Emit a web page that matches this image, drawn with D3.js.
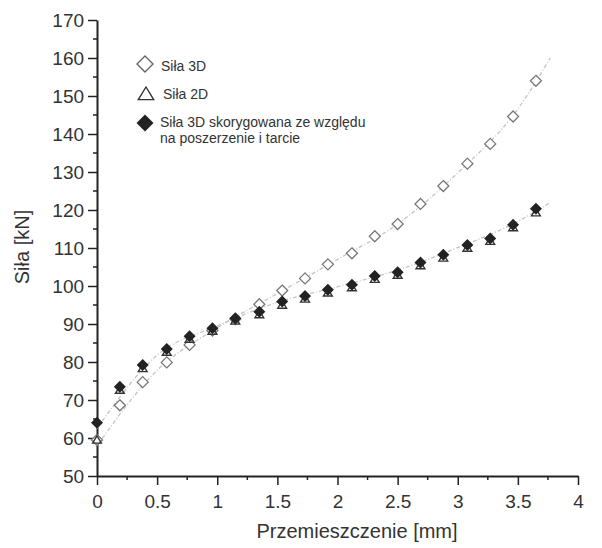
<!DOCTYPE html>
<html>
<head>
<meta charset="utf-8">
<script src="https://cdn.jsdelivr.net/npm/d3@7/dist/d3.min.js"></script>
<style>
  body { margin: 0; background: #fff; }
  svg { font-family: "Liberation Sans", Arial, sans-serif; }
</style>
</head>
<body>
<svg id="chart" width="602" height="548"></svg>
<script>
// displacement [mm]
const przem = [0, 0.19, 0.38, 0.58, 0.77, 0.96, 1.15, 1.35, 1.54, 1.73, 1.92, 2.12, 2.31, 2.5, 2.69, 2.88, 3.08, 3.27, 3.46, 3.65];
// forces [kN]
const sila3D = [59.5, 68.6, 74.7, 79.9, 84.5, 88.3, 91.3, 95.2, 98.8, 102.0, 105.7, 108.6, 113.1, 116.3, 121.6, 126.3, 132.2, 137.4, 144.6, 154.0];
const sila2D = [59.5, 72.6, 78.3, 82.6, 86.0, 88.1, 90.8, 92.5, 95.0, 96.6, 98.2, 99.6, 101.8, 102.9, 105.4, 107.4, 110.0, 111.8, 115.4, 119.3];
const silaKor = [64.0, 73.5, 79.2, 83.4, 86.8, 88.9, 91.5, 93.2, 95.9, 97.4, 99.0, 100.3, 102.6, 103.6, 106.2, 108.2, 110.8, 112.5, 116.1, 120.3];
// dashed trend lines
const fitX = [0, 0.5, 1, 1.5, 2, 2.5, 3, 3.5, 3.77];
const fit3D = [58, 77.8, 89, 98, 107, 116.3, 129.8, 146.6, 160];
const fitKor = [62.5, 81.8, 89.5, 95.7, 99.8, 104.2, 110.1, 117, 122];

const xTicks = [0, 0.5, 1, 1.5, 2, 2.5, 3, 3.5, 4];
const yTicks = [50, 60, 70, 80, 90, 100, 110, 120, 130, 140, 150, 160, 170];

const legendLabels = ["Siła 3D", "Siła 2D", ["Siła 3D skorygowana ze względu", "na poszerzenie i tarcie"]];

const svg = d3.select("#chart");

const x = d3.scaleLinear().domain([0, 4]).range([97, 578]);
const y = d3.scaleLinear().domain([50, 170]).range([476, 20]);

// minor ticks
const xMinor = d3.range(0.25, 4, 0.5);
const yMinor = d3.range(55, 170, 10);

const gx = svg.append("g").attr("transform", "translate(0,476)");
gx.call(d3.axisBottom(x).tickValues(xTicks).tickSize(9).tickFormat(d3.format("")).tickSizeOuter(0));
gx.append("g").selectAll("line").data(xMinor).enter().append("line")
    .attr("x1", d => x(d)).attr("x2", d => x(d)).attr("y1", 0).attr("y2", 4)
    .attr("stroke", "#222").attr("stroke-width", 1.5);

const gy = svg.append("g").attr("transform", "translate(97,0)");
gy.call(d3.axisLeft(y).tickValues(yTicks).tickSize(9).tickSizeOuter(0));
gy.append("g").selectAll("line").data(yMinor).enter().append("line")
    .attr("y1", d => y(d)).attr("y2", d => y(d)).attr("x1", 0).attr("x2", -4)
    .attr("stroke", "#222").attr("stroke-width", 1.5);

svg.selectAll(".domain").attr("stroke", "#222").attr("stroke-width", 2);
svg.selectAll(".tick line").attr("stroke", "#222").attr("stroke-width", 1.5);
svg.selectAll(".tick text").attr("font-size", 19).attr("fill", "#333")
   .attr("font-family", "Liberation Sans, Arial, sans-serif");
gx.selectAll(".tick text").attr("dy", "1.05em");
gy.selectAll(".tick text").attr("dx", "-0.05em");

svg.append("text").attr("x", 357).attr("y", 538).attr("text-anchor", "middle")
   .attr("font-size", 20).attr("fill", "#333").text("Przemieszczenie [mm]");
svg.append("text").attr("transform", "translate(29,247) rotate(-90)").attr("text-anchor", "middle")
   .attr("font-size", 20).attr("fill", "#333").text("Siła [kN]");

// trend lines
const line = d3.line().x((d, i) => x(fitX[i])).y(d => y(d)).curve(d3.curveMonotoneX);
[fit3D, fitKor].forEach(f => {
  svg.append("path").attr("d", line(f)).attr("fill", "none")
     .attr("stroke", "#c4c4c4").attr("stroke-width", 1.3).attr("stroke-dasharray", "4,2,1,2");
});

const diamond = r => `M0,${-r}L${r},0L0,${r}L${-r},0Z`;
const triangle = r => `M0,${-r}L${r * 1.1},${r * 0.8}L${-r * 1.1},${r * 0.8}Z`;

// Siła 3D - open diamonds
svg.append("g").selectAll("path").data(sila3D).enter().append("path")
   .attr("transform", (d, i) => `translate(${x(przem[i])},${y(d)})`)
   .attr("d", diamond(5.5)).attr("fill", "#fff").attr("stroke", "#777").attr("stroke-width", 1.3);
// Siła 2D - open triangles
svg.append("g").selectAll("path").data(sila2D).enter().append("path")
   .attr("transform", (d, i) => `translate(${x(przem[i])},${y(d)})`)
   .attr("d", triangle(4)).attr("fill", "none").attr("stroke", "#333").attr("stroke-width", 1.4);
// corrected - filled diamonds
svg.append("g").selectAll("path").data(silaKor).enter().append("path")
   .attr("transform", (d, i) => `translate(${x(przem[i])},${y(d)})`)
   .attr("d", diamond(6)).attr("fill", "#222");

// legend
const lg = svg.append("g").attr("font-size", 14).attr("fill", "#333");
lg.append("path").attr("transform", "translate(145,64)").attr("d", diamond(8))
  .attr("fill", "#fff").attr("stroke", "#666").attr("stroke-width", 1.4);
lg.append("path").attr("transform", "translate(146,94)").attr("d", triangle(7))
  .attr("fill", "none").attr("stroke", "#333").attr("stroke-width", 1.4);
lg.append("path").attr("transform", "translate(145,123)").attr("d", diamond(8.5))
  .attr("fill", "#222");
lg.append("text").attr("x", 161).attr("y", 71).text(legendLabels[0]);
lg.append("text").attr("x", 163).attr("y", 99).text(legendLabels[1]);
lg.append("text").attr("x", 160).attr("y", 127).text(legendLabels[2][0]);
lg.append("text").attr("x", 160).attr("y", 143).text(legendLabels[2][1]);
</script>
</body>
</html>
